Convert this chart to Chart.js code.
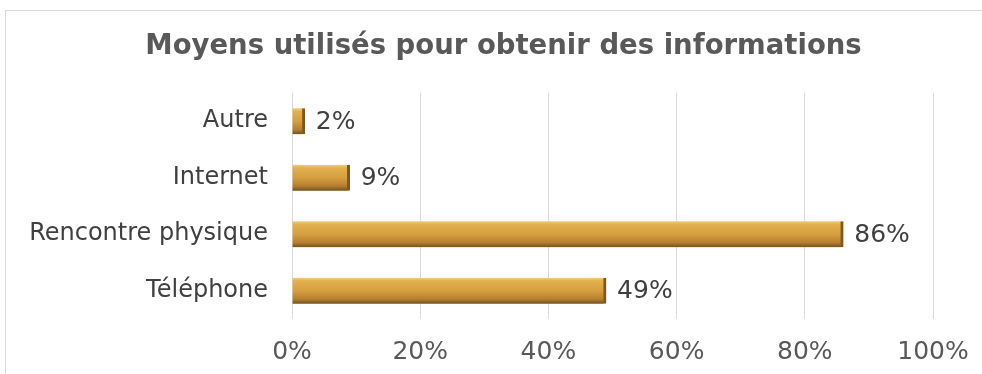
<!DOCTYPE html>
<html>
<head>
<meta charset="utf-8">
<script src="https://cdn.jsdelivr.net/npm/chart.js@4"></script>
<style>
  body { margin: 0; background: #fff; overflow: hidden; }
  #wrap { position: relative; width: 982px; height: 374px; overflow: hidden; }
  #cadre { position: absolute; left: 5px; top: 10px; width: 990px; height: 380px;
           border: 1px solid #d9d9d9; pointer-events: none; }
</style>
</head>
<body>
<div id="wrap">
  <canvas id="myChart" width="982" height="374"></canvas>
  <div id="cadre"></div>
</div>
<script>
// données
const categories = ["Autre", "Internet", "Rencontre physique", "Téléphone"];
const pourcentages = [2, 9, 86, 49];
const graduations = [0, 20, 40, 60, 80, 100];

const police = "'DejaVu Sans', Verdana, sans-serif";

// dégradé vertical pour donner l'effet cylindre aux barres
function degradeBarre(ctx) {
  const chart = ctx.chart;
  if (!chart.chartArea || ctx.dataIndex === undefined) return "#d9a347";
  const yScale = chart.scales.y;
  const yc = yScale.getPixelForValue(ctx.dataIndex);
  const h = 13;
  const g = chart.ctx.createLinearGradient(0, yc - h, 0, yc + h);
  g.addColorStop(0, "#efcd82");
  g.addColorStop(0.12, "#e4b04e");
  g.addColorStop(0.5, "#d69f40");
  g.addColorStop(0.82, "#b67f2f");
  g.addColorStop(1, "#72501c");
  return g;
}

// étiquettes de valeur au bout des barres
const etiquettes = {
  id: "etiquettes",
  afterDatasetsDraw(chart) {
    const c = chart.ctx;
    const meta = chart.getDatasetMeta(0);
    c.save();
    c.font = "25px " + police;
    c.fillStyle = "#404040";
    c.textBaseline = "middle";
    c.textAlign = "left";
    meta.data.forEach((bar, i) => {
      c.fillText(pourcentages[i] + "%", bar.x + 11, bar.y + 1);
    });
    c.restore();
  }
};

const config = {
  type: "bar",
  data: {
    labels: categories,
    datasets: [{
      data: pourcentages,
      backgroundColor: degradeBarre,
      borderColor: "#80581f",
      borderWidth: { right: 3, left: 0, top: 0, bottom: 0 },
      borderSkipped: false,
      barThickness: 26
    }]
  },
  options: {
    indexAxis: "y",
    responsive: false,
    animation: false,
    // marge droite négative : décale le titre vers la droite
    layout: { padding: { left: 0, right: -25, top: 0, bottom: 0 } },
    plugins: {
      legend: { display: false },
      tooltip: { enabled: false },
      title: {
        display: true,
        text: "Moyens utilisés pour obtenir des informations",
        color: "#595959",
        font: { family: police, size: 27.5, weight: "bold" },
        padding: { top: 30, bottom: 30 }
      }
    },
    scales: {
      x: {
        min: 0,
        max: 100,
        afterBuildTicks(scale) {
          scale.ticks = graduations.map(v => ({ value: v }));
        },
        afterFit(scale) {
          scale.height = 55;
          scale.paddingLeft = 0;
          scale.paddingRight = 49;
        },
        grid: { color: "#d9d9d9", drawTicks: false },
        border: { display: false },
        ticks: {
          padding: 18,
          color: "#595959",
          font: { family: police, size: 25 },
          callback: v => v + "%"
        }
      },
      y: {
        afterFit(scale) { scale.width = 292; },
        grid: { display: false },
        border: { display: false },
        ticks: {
          padding: 16,
          color: "#404040",
          font: { family: police, size: 24 }
        }
      }
    }
  },
  plugins: [etiquettes]
};

new Chart(document.getElementById("myChart"), config);
</script>
</body>
</html>
